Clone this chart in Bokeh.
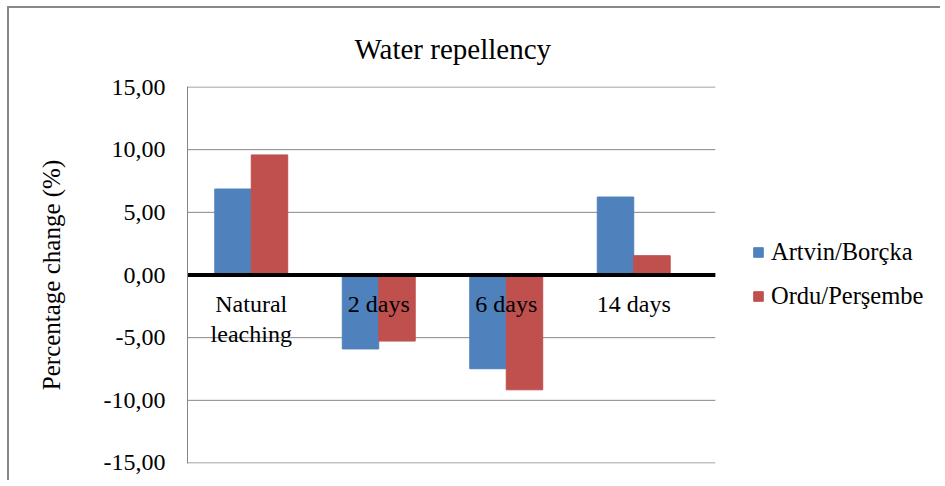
from bokeh.plotting import figure
from bokeh.models import Range1d, FixedTicker, Legend, LegendItem, ColumnDataSource
from bokeh.core.properties import value
from bokeh.embed import file_html
from bokeh.resources import INLINE

categories = ["Natural\nleaching", "2 days", "6 days", "14 days"]
series_names = ["Artvin/Borçka", "Ordu/Perşembe"]
artvin = [6.86, -5.9, -7.48, 6.22]
ordu = [9.58, -5.27, -9.16, 1.54]
tick_values = [-15, -10, -5, 0, 5, 10, 15]
tick_labels = ["-15,00", "-10,00", "-5,00", "0,00", "5,00", "10,00", "15,00"]
title_text = "Water repellency"
y_label = "Percentage change (%)"

FONT = "Liberation Serif"
BLUE = "#4F81BD"
RED = "#C0504D"
GRID = "#868686"

N = len(categories)
PLOT_END = N * 1.035      # right end of the plot area (gridlines stop there)
X_END = 5.906             # frame reaches the right edge so the legend is not clipped

p = figure(width=940, height=480, output_backend="svg", toolbar_location=None,
           x_range=Range1d(0, X_END), y_range=Range1d(-15.04, 15.04),
           min_border_left=187, min_border_right=0, min_border_top=86,
           min_border_bottom=17)
# chart border (top and left edges) painted behind a transparent border area
p.styles = {
    "background-color": "white",
    "background-image": "linear-gradient(#888888, #888888), linear-gradient(#888888, #888888)",
    "background-position": "7px 6px, 7px 6px",
    "background-size": "2px 100%, 100% 2px",
    "background-repeat": "no-repeat, no-repeat",
}
p.outline_line_color = None
p.background_fill_color = "white"
p.border_fill_color = None

p.title.text = title_text
p.title.text_font = FONT
p.title.text_font_size = "29px"
p.title.text_font_style = "normal"
p.title.text_color = "black"
p.title.align = "left"
p.title.offset = 167
p.title.standoff = 44

p.xaxis.visible = False
p.xgrid.visible = False
p.ygrid.visible = False

yax = p.yaxis[0]
yax.ticker = FixedTicker(ticks=tick_values)
yax.major_label_overrides = {v: s for v, s in zip(tick_values, tick_labels)}
yax.major_tick_line_color = None
yax.minor_tick_line_color = None
yax.major_tick_out = 0
yax.major_label_standoff = 22
yax.axis_line_color = GRID
yax.major_label_text_font = FONT
yax.major_label_text_font_size = "24px"
yax.major_label_text_color = "black"
yax.axis_label = y_label
yax.axis_label_text_font = FONT
yax.axis_label_text_font_size = "25px"
yax.axis_label_text_font_style = "normal"
yax.axis_label_text_color = "black"
yax.axis_label_standoff = 36

# horizontal gridlines over the plot area only
grid_src = ColumnDataSource(dict(
    x0=[0 for _ in tick_values], x1=[PLOT_END for _ in tick_values], y=tick_values))
p.segment(x0="x0", y0="y", x1="x1", y1="y", source=grid_src, line_color=GRID, line_width=1)

idx = list(range(N))
src = ColumnDataSource(dict(
    xa=[i + 0.5 - 0.143 for i in idx],
    xo=[i + 0.5 + 0.143 for i in idx],
    artvin=artvin, ordu=ordu,
    xl=[i + 0.5 for i in idx],
    lab=categories,
    yl=[0 for _ in idx],
))

r1 = p.vbar(x="xa", top="artvin", bottom=0, width=0.286, source=src,
            fill_color=BLUE, line_color=BLUE)
r2 = p.vbar(x="xo", top="ordu", bottom=0, width=0.286, source=src,
            fill_color=RED, line_color=RED)

# zero line
p.segment(x0=[0], y0=[0], x1=[PLOT_END], y1=[0], line_color="black", line_width=4)

p.text(x="xl", y="yl", text="lab", source=src, y_offset=16,
       text_font=value(FONT), text_font_size="24px", text_color="black",
       text_align="center", text_baseline="top", text_line_height=1.15)

legend = Legend(items=[LegendItem(label=series_names[0], renderers=[r1]),
                       LegendItem(label=series_names[1], renderers=[r2])],
                location=(565, 153), orientation="vertical")
legend.label_text_font = FONT
legend.label_text_font_size = "24.5px"
legend.label_text_color = "black"
legend.glyph_width = 12
legend.glyph_height = 12
legend.label_standoff = 7
legend.label_height = 24
legend.spacing = 16
legend.margin = 0
legend.padding = 7
legend.border_line_color = None
legend.background_fill_alpha = 0
p.add_layout(legend, "center")

open("out.html", "w").write(file_html(p, INLINE))
